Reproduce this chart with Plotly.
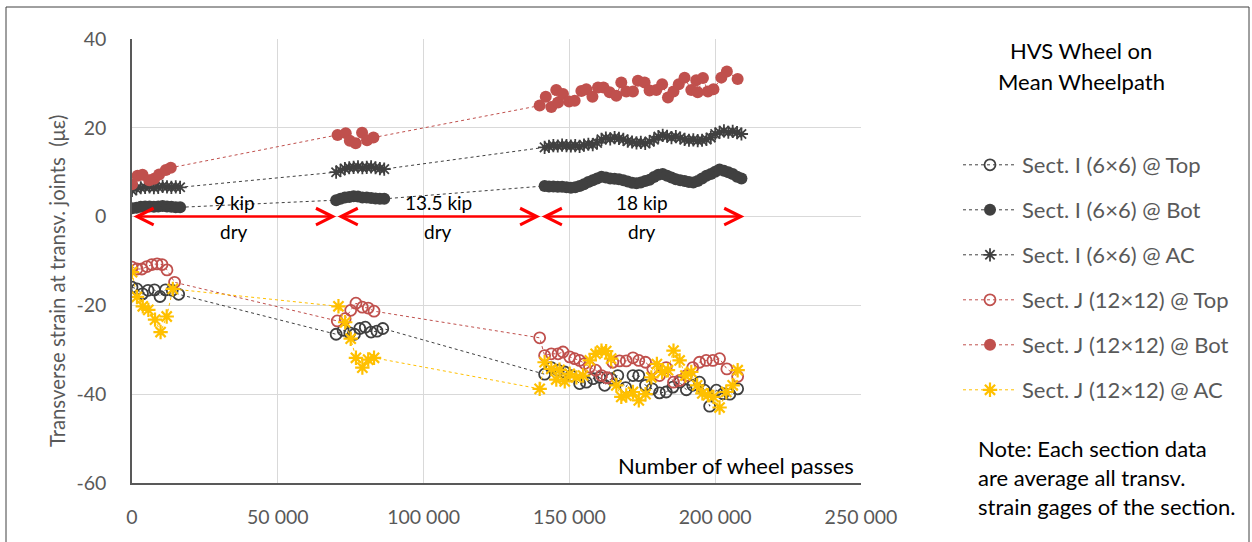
import plotly.graph_objects as go

# ---------------- data ----------------
# Sect. I (6x6) @ Top
I_TOP_X = [0, 1700, 3600, 5500, 7700, 9600, 11500, 13800, 16000,
           70000, 72400, 74700, 76300, 78100, 80000, 82000, 84000, 86000,
           141500, 143800, 146100, 148400, 150600, 153500, 155800, 158100, 160400, 162100,
           164300, 166600, 169300, 171800, 173800, 176100, 178400, 180900, 183200, 185500,
           187800, 190100, 192300, 194600, 196300, 198100, 200400, 202700, 205000, 207700]
I_TOP_Y = [-15.9, -16.3, -17.4, -16.6, -16.5, -18.0, -16.5, -16.6, -17.5,
           -26.5, -25.6, -26.2, -26.5, -25.2, -24.9, -26.0, -25.8, -25.2,
           -35.5, -34.0, -34.6, -35.0, -35.8, -37.6, -37.3, -36.5, -36.2, -38.0,
           -36.5, -35.8, -38.5, -35.8, -35.8, -38.0, -38.8, -39.7, -39.5, -38.4,
           -37.3, -39.0, -38.0, -37.3, -39.1, -42.7, -39.1, -39.9, -40.0, -38.8]

# Sect. I (6x6) @ Bot and @ AC share the same pass counts
I_X = [0, 1500, 3000, 4500, 6000, 7500, 9000, 10500, 12000, 13500, 15000, 16500,
       70000, 71500, 73000, 74500, 76000, 77500, 79000, 80500, 82000, 83500, 85000, 86500,
       141500, 143000, 144500, 146000, 147500, 149000, 150500, 152000, 153500, 155000,
       156500, 158000, 159500, 161000, 162500, 164000, 165500, 167000, 168500, 170000,
       171500, 173000, 174500, 176000, 177500, 179000, 180500, 182000, 183500, 185000,
       186500, 188000, 189500, 191000, 192500, 194000, 195500, 197000, 198500, 200000,
       201500, 203000, 204500, 206000, 207500, 209000]
I_BOT_Y = [1.9, 2.0, 2.2, 2.3, 2.3, 2.2, 2.3, 2.4, 2.3, 2.2, 2.1, 2.1,
           3.7, 4.0, 4.3, 4.4, 4.6, 4.5, 4.3, 4.3, 4.2, 4.1, 4.0, 4.0,
           6.9, 6.8, 6.8, 6.7, 6.7, 6.6, 6.5, 6.6, 6.9, 7.3,
           7.8, 8.2, 8.6, 9.0, 8.8, 8.6, 8.5, 8.4, 8.2, 7.9,
           7.6, 7.5, 7.7, 8.0, 8.3, 8.9, 9.4, 9.6, 9.2, 8.8,
           8.4, 8.2, 8.0, 7.8, 7.7, 8.0, 8.6, 9.2, 9.6, 10.1,
           10.6, 10.3, 10.0, 9.6, 9.0, 8.6]
I_AC_Y = [5.9, 6.3, 6.5, 6.6, 6.7, 6.5, 6.6, 6.8, 6.7, 6.6, 6.7, 6.6,
          10.0, 10.4, 10.8, 11.0, 11.1, 11.2, 11.0, 11.1, 11.2, 11.0, 10.8, 10.7,
          15.6, 15.8, 16.0, 15.9, 16.1, 16.0, 15.9, 16.0, 15.8, 16.1,
          16.3, 16.2, 16.6, 17.4, 17.7, 17.5, 17.8, 17.6, 17.4, 17.0,
          16.8, 16.6, 16.7, 16.5, 16.9, 17.3, 18.0, 18.3, 18.1, 17.8,
          18.0, 17.7, 17.4, 17.2, 17.3, 17.1, 17.2, 17.4, 17.8, 18.6,
          19.0, 19.3, 19.0, 19.2, 18.9, 18.6]

# Sect. J (12x12) @ Top
J_TOP_X = [0, 1700, 3400, 5100, 6800, 8600, 10300, 12000, 14600,
           70400, 73100, 75000, 76800, 79000, 81000, 83000,
           139800, 141500, 143800, 146100, 147800, 150100, 151800, 153500, 155200, 156900,
           159000, 161000, 162900, 164900, 167200, 169500, 171800, 173800, 176100, 178600,
           180900, 183200, 185700, 187800, 190100, 192300, 194600, 196900, 199200, 201500,
           204000, 207700]
J_TOP_Y = [-11.4, -11.8, -11.8, -11.25, -10.8, -10.65, -10.8, -12.0, -14.8,
           -23.5, -23.0, -21.1, -19.5, -20.4, -20.6, -21.3,
           -27.3, -31.3, -30.9, -30.9, -30.5, -31.6, -32.0, -32.4, -33.1, -33.9,
           -34.6, -35.8, -36.3, -32.8, -32.5, -32.5, -31.8, -32.4, -32.8, -34.3,
           -35.8, -34.0, -37.3, -36.9, -35.8, -34.0, -32.8, -32.4, -32.4, -32.0,
           -34.3, -36.0]

# Sect. J (12x12) @ Bot
J_BOT_X = [0, 1900, 3600, 5900, 7600, 9300, 11600, 13300,
           70500, 73300, 74700, 76700, 78900, 80600, 82800,
           139800, 141900, 143800, 145500, 146100, 147800, 149900, 151800, 154100, 155800,
           157900, 159800, 161700, 163800, 166100, 167800, 169500, 171800, 173500, 175800,
           177500, 179800, 181800, 183800, 185700, 187500, 189500, 191800, 193500, 194000,
           195800, 197500, 199400, 202100, 204000, 207700]
J_BOT_Y = [7.3, 9.2, 9.4, 8.2, 8.5, 9.5, 10.5, 11.0,
           18.4, 18.8, 17.1, 16.5, 18.9, 17.2, 17.8,
           25.0, 27.0, 24.7, 28.5, 25.7, 27.6, 25.9, 26.1, 28.3, 28.7,
           27.0, 29.1, 29.1, 28.0, 27.2, 30.2, 28.2, 28.2, 30.6, 30.2,
           28.4, 28.5, 29.8, 26.8, 28.2, 29.8, 31.3, 28.5, 30.7, 28.0,
           31.2, 28.2, 28.7, 31.3, 32.7, 31.0]

# Sect. J (12x12) @ AC
J_AC_X = [0, 1700, 3700, 5600, 7900, 9800, 11900, 14000,
          70800, 73100, 75000, 76800, 79000, 81000, 83000,
          139800, 141500, 143800, 145500, 146600, 148400, 150100, 152400, 154700, 157000,
          159000, 161000, 162600, 164300, 166100, 167800, 169500, 171800, 173800, 176100,
          178100, 180000, 181800, 183800, 185700, 187800, 189800, 191800, 193800, 195600,
          197500, 199400, 201500, 203800, 206000, 207700]
J_AC_Y = [-12.5, -18.1, -20.2, -21.0, -23.2, -26.0, -22.5, -16.3,
          -20.2, -23.8, -27.5, -31.8, -34.0, -32.2, -31.8,
          -38.8, -32.8, -34.3, -36.7, -34.5, -37.1, -35.4, -36.2, -35.8, -32.4,
          -30.9, -30.2, -30.3, -32.0, -38.0, -40.6, -40.3, -39.5, -41.4, -40.0,
          -36.2, -33.2, -35.0, -34.6, -30.2, -32.4, -35.8, -35.0, -38.0, -39.8,
          -40.2, -40.6, -43.0, -39.5, -38.0, -34.6]

SERIES_NAMES = ["Sect. I (6×6) @ Top", "Sect. I (6×6) @ Bot", "Sect. I (6×6) @ AC",
                "Sect. J (12×12) @ Top", "Sect. J (12×12) @ Bot", "Sect. J (12×12) @ AC"]

PHASE_BOUNDS = [0, 70000, 140000, 210000]
LOAD_LABELS = ["9 kip", "13.5 kip", "18 kip"]
COND_LABEL = "dry"

X_TICKS = [0, 50000, 100000, 150000, 200000, 250000]
Y_TICKS = [-60, -40, -20, 0, 20, 40]
Y_TICK_TEXT = ["-60", "-40", "-20", "0", "20", "40"]

TITLE_LINES = ["HVS Wheel on", "Mean Wheelpath"]
NOTE_LINES = ["Note: Each section data", "are average all transv.", "strain gages of the section."]
X_LABEL = "Number of wheel passes"
Y_LABEL = "Transverse strain at transv. joints  (με)"

# ---------------- styling ----------------
FONT = "Lato"
GRAY = "#404040"
RED = "#C0504D"
YEL = "#FFC000"
TXT = "#595959"

W, H = 1252, 542
L, R, T, B = 132, 391, 39, 59
PW, PH = W - L - R, H - T - B


def px_x(p):
    return (p - L) / PW


def px_y(p):
    return (H - B - p) / PH


styles = [
    dict(color=GRAY, symbol="circle-open", size=11, lw=1.8),
    dict(color=GRAY, symbol="circle", size=12, lw=0),
    dict(color=GRAY, symbol="asterisk-open", size=11, lw=1.8),
    dict(color=RED, symbol="circle-open", size=11, lw=1.8),
    dict(color=RED, symbol="circle", size=12, lw=0),
    dict(color=YEL, symbol="asterisk-open", size=12, lw=2.2),
]
data = [(I_TOP_X, I_TOP_Y), (I_X, I_BOT_Y), (I_X, I_AC_Y),
        (J_TOP_X, J_TOP_Y), (J_BOT_X, J_BOT_Y), (J_AC_X, J_AC_Y)]

fig = go.Figure()
for i, ((xs, ys), st, nm) in enumerate(zip(data, styles, SERIES_NAMES)):
    fig.add_trace(go.Scatter(
        x=xs, y=ys, name=nm, mode="lines+markers",
        legendgroup=f"g{i}",
        line=dict(color=st["color"], width=1, dash="dot"),
        marker=dict(symbol=st["symbol"], size=st["size"], color=st["color"],
                    line=dict(color=st["color"], width=st["lw"])),
    ))

annotations = []
# load-phase arrows and labels
for k in range(len(LOAD_LABELS)):
    x0, x1 = PHASE_BOUNDS[k], PHASE_BOUNDS[k + 1]
    annotations.append(dict(
        x=x1, y=0, ax=x0, ay=0, xref="x", yref="y", axref="x", ayref="y",
        text="", showarrow=True, arrowhead=5, startarrowhead=5, arrowside="end+start",
        arrowsize=1.3, startarrowsize=1.3, arrowwidth=2.5, arrowcolor="#FF0000",
        standoff=0, startstandoff=0))
    mid = (x0 + x1) / 2
    annotations.append(dict(x=mid, y=0, xref="x", yref="y", text=LOAD_LABELS[k],
                            showarrow=False, yshift=14, yanchor="middle",
                            font=dict(size=19, color="black", family=FONT)))
    annotations.append(dict(x=mid, y=0, xref="x", yref="y", text=COND_LABEL,
                            showarrow=False, yshift=-15, yanchor="middle",
                            font=dict(size=19, color="black", family=FONT)))

# legend title lines
for j, line in enumerate(TITLE_LINES):
    annotations.append(dict(x=px_x(1081), y=px_y(51 + 30 * j), xref="paper", yref="paper",
                            text=line, showarrow=False, xanchor="center", yanchor="middle",
                            font=dict(size=22, color="black", family=FONT)))
# note lines
for j, line in enumerate(NOTE_LINES):
    annotations.append(dict(x=px_x(976), y=px_y(448 + 29.5 * j), xref="paper", yref="paper",
                            text=line, showarrow=False, xanchor="left", yanchor="middle",
                            font=dict(size=22, color="black", family=FONT)))
# x-axis label inside plot
annotations.append(dict(x=px_x(856), y=px_y(465), xref="paper", yref="paper",
                        text=X_LABEL, showarrow=False, xanchor="right", yanchor="middle",
                        font=dict(size=22, color="black", family=FONT)))
# y-axis title
annotations.append(dict(x=px_x(57), y=px_y(281), xref="paper", yref="paper",
                        text=Y_LABEL, showarrow=False, textangle=-90,
                        xanchor="center", yanchor="middle",
                        font=dict(size=20.3, color=TXT, family=FONT)))

shapes = [dict(type="rect", xref="paper", yref="paper",
               x0=px_x(6), x1=px_x(1249), y0=px_y(546), y1=px_y(7),
               line=dict(color="#404040", width=1), fillcolor="rgba(0,0,0,0)", layer="below")]

fig.update_layout(
    width=W, height=H,
    margin=dict(l=L, r=R, t=T, b=B, pad=0),
    paper_bgcolor="white", plot_bgcolor="white",
    font=dict(family=FONT, size=19, color=TXT),
    separators=". ",
    showlegend=True,
    legend=dict(x=px_x(958), y=px_y(144), xanchor="left", yanchor="top",
                font=dict(size=22, color=TXT, family=FONT), itemwidth=54,
                tracegroupgap=13.4, bgcolor="rgba(0,0,0,0)"),
    annotations=annotations,
    shapes=shapes,
)
fig.update_xaxes(range=[0, 250000], tickvals=X_TICKS, tickformat=",d",
                 showgrid=True, gridcolor="#D9D9D9", gridwidth=1.3,
                 showline=True, linecolor="#595959", linewidth=1.5,
                 zeroline=False, ticks="", ticklabelstandoff=16,
                 tickfont=dict(size=19.5, color=TXT, family=FONT))
fig.update_yaxes(range=[-60, 40], tickvals=Y_TICKS, ticktext=Y_TICK_TEXT,
                 showgrid=True, gridcolor="#D9D9D9", gridwidth=1.3,
                 showline=True, linecolor="#595959", linewidth=1.5,
                 zeroline=False, ticks="", ticklabelstandoff=20,
                 tickfont=dict(size=19.5, color=TXT, family=FONT))

fig.write_html("out.html", config={"displayModeBar": False},
               post_script="document.body.style.margin='0';")
